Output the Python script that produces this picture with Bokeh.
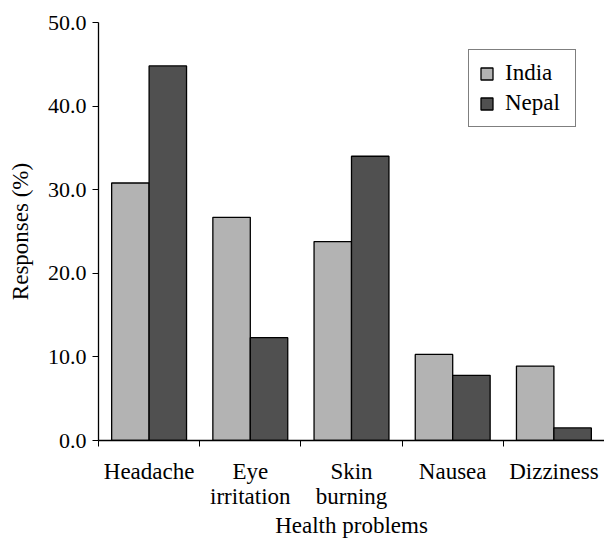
from bokeh.plotting import figure
from bokeh.models import ColumnDataSource, Range1d, FixedTicker, Legend, LegendItem, NumeralTickFormatter
from bokeh.transform import dodge
from bokeh.embed import file_html
from bokeh.resources import INLINE

categories = ["Headache", "Eye\nirritation", "Skin\nburning", "Nausea", "Dizziness"]
india = [30.8, 26.7, 23.8, 10.3, 8.9]
nepal = [44.8, 12.3, 34.0, 7.8, 1.5]
y_ticks = [0, 10, 20, 30, 40, 50]

FONT = "Liberation Serif"
src = ColumnDataSource(dict(x=list(range(len(categories))), india=india, nepal=nepal))

p = figure(width=604, height=541, output_backend="svg", toolbar_location=None,
           x_range=Range1d(-0.5, len(categories) - 0.5), y_range=Range1d(0, 50),
           min_border_left=98, min_border_right=0, min_border_top=22, min_border_bottom=101)
p.outline_line_color = None
p.xgrid.grid_line_color = None
p.ygrid.grid_line_color = None

w = 0.37
r1 = p.vbar(x=dodge("x", -w / 2, range=p.x_range), top="india", width=w, source=src,
            fill_color="#b3b3b3", line_color="black", line_width=1.3)
r2 = p.vbar(x=dodge("x", w / 2, range=p.x_range), top="nepal", width=w, source=src,
            fill_color="#505050", line_color="black", line_width=1.3)

xa = p.xaxis[0]
xa.ticker = FixedTicker(ticks=list(range(len(categories))),
                        minor_ticks=[i - 0.5 for i in range(len(categories) + 1)])
xa.major_label_overrides = {i: c for i, c in enumerate(categories)}
xa.major_tick_line_color = None
xa.major_tick_in = 0
xa.major_tick_out = 6
xa.minor_tick_in = 0
xa.minor_tick_out = 6
xa.minor_tick_line_color = "black"
xa.axis_line_color = "black"
xa.axis_line_width = 1.3
xa.major_label_text_font = FONT
xa.major_label_text_font_size = "23px"
xa.major_label_text_line_height = 1.0
xa.major_label_text_color = "black"
xa.major_label_standoff = 12
xa.axis_label = "Health problems"
xa.axis_label_text_font = FONT
xa.axis_label_text_font_size = "23px"
xa.axis_label_text_font_style = "normal"
xa.axis_label_text_color = "black"
xa.axis_label_standoff = 1

ya = p.yaxis[0]
ya.ticker = FixedTicker(ticks=y_ticks, minor_ticks=[])
ya.formatter = NumeralTickFormatter(format="0.0")
ya.major_tick_in = 0
ya.major_tick_out = 6
ya.major_tick_line_color = "black"
ya.axis_line_color = "black"
ya.axis_line_width = 1.3
ya.major_label_text_font = FONT
ya.major_label_text_font_size = "22px"
ya.major_label_text_color = "black"
ya.major_label_standoff = 6
ya.axis_label = "Responses (%)"
ya.axis_label_text_font = FONT
ya.axis_label_text_font_size = "23px"
ya.axis_label_text_font_style = "normal"
ya.axis_label_text_color = "black"
ya.axis_label_standoff = 12

legend = Legend(items=[LegendItem(label="India", renderers=[r1]),
                       LegendItem(label="Nepal", renderers=[r2])],
                location=(370, 313))
legend.border_line_color = "black"
legend.border_line_width = 1.3
legend.background_fill_alpha = 1
legend.label_text_font = FONT
legend.label_text_font_size = "23px"
legend.label_text_color = "black"
legend.glyph_width = 15
legend.glyph_height = 15
legend.label_height = 22
legend.label_width = 60
legend.label_standoff = 11
legend.spacing = 4
legend.padding = 10
legend.margin = 0
p.add_layout(legend, "center")

open("out.html", "w").write(file_html(p, INLINE))
